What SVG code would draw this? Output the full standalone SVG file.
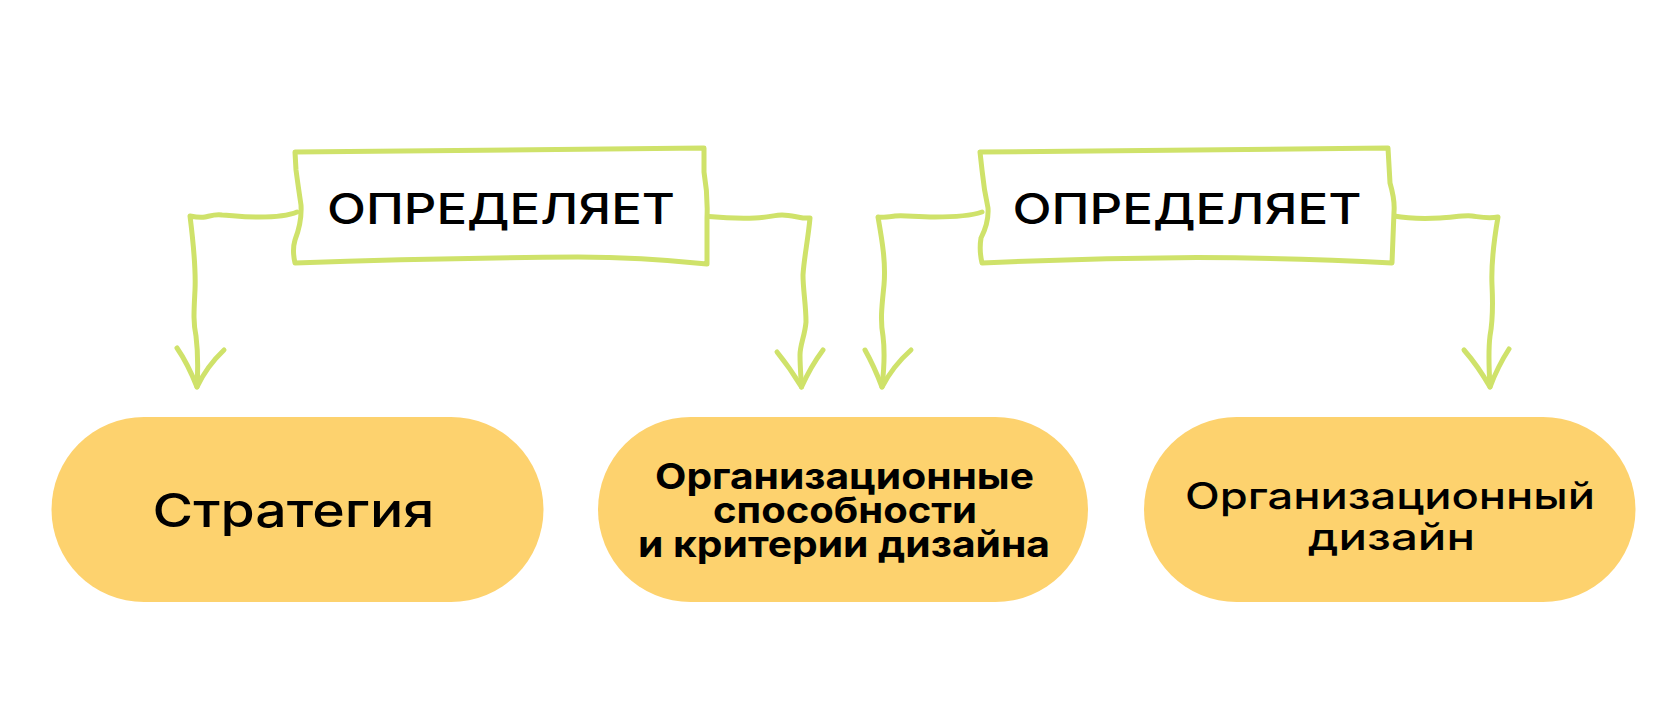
<svg xmlns="http://www.w3.org/2000/svg" width="1680" height="716" viewBox="0 0 1680 716">
<style>
.bg{fill:#ffffff}
.sk{fill:none;stroke:#CFE26A;stroke-width:5;stroke-linecap:round;stroke-linejoin:round}
.boxf{fill:#ffffff}
.pill{fill:#FDD26E}
.t{font-family:Inter,"Liberation Sans","DejaVu Sans",sans-serif;fill:#000000}
.lbl{font-size:42px;font-weight:500}
.big{font-size:47px;font-weight:500}
.mid{font-size:37px;font-weight:500}
.bold{font-size:36px;font-weight:700}
</style>
<rect class="bg" x="0" y="0" width="1680" height="716"/>

<g id="connectors">
  <!-- box 1 left -->
  <path class="sk" d="M297 212 C290 215,275 217,259 217 C240 217,230 215,222 215 C215 214,210 216,205 217 C200 218,195 217,190 216 C193 240,196 268,195 290 C194 310,193 322,196 336 C198 352,198 370,197 387"/>
  <path class="sk" d="M177 348 Q188 364 197 387 Q207 366 224 350"/>
  <!-- box 1 right -->
  <path class="sk" d="M709 216.5 C725 218,740 218.5,755 218 C768 217.5,775 215,782 215 C790 215,796 217,803 218 C806 218,808 218,810 218 C808 240,804 258,803 275 C803 290,806 305,806 322 C805 335,800 345,800 355 C800 366,801 378,801.5 387"/>
  <path class="sk" d="M777 352 Q790 368 801.5 387 Q811 366 823 350"/>
  <!-- box 2 left -->
  <path class="sk" d="M982 212 C970 216,955 217,935 217 C915 217,905 215,895 216 C888 217,882 218,878 217 C882 240,886 262,884 285 C882 305,880 320,883 336 C885 352,884 370,882 387"/>
  <path class="sk" d="M865 350 Q874 366 882 387 Q893 366 911 350"/>
  <!-- box 2 right -->
  <path class="sk" d="M1394 216 C1405 218,1420 219,1440 218 C1455 217,1465 215,1472 216 C1480 217,1488 219,1498 217 C1494 240,1491 262,1492 285 C1493 305,1493 320,1490 336 C1488 352,1489 370,1490 387"/>
  <path class="sk" d="M1464 350 Q1478 366 1490 387 Q1498 366 1509 349"/>
</g>

<g id="label1">
  <path class="sk boxf" d="M295 152 Q500 150 704 148 L704 172 Q708 195 707 218 L707 264 Q640 257 578 257 Q430 258 295 263 Q292 250 295 240 Q302 222 301 205 Q298 185 296 170 Z"/>
  <text class="t lbl" x="327" y="223.5" textLength="348" lengthAdjust="spacingAndGlyphs">ОПРЕДЕЛЯЕТ</text>
</g>

<g id="label2">
  <path class="sk boxf" d="M980 152 Q1185 150 1388 148 L1390 183 Q1395 200 1394 212 L1392 263 Q1300 258 1197 257.5 Q1090 258 982 263 Q979 250 981 238 Q989 222 988 208 Q984 190 982 170 Z"/>
  <text class="t lbl" x="1012.5" y="223.5" textLength="349" lengthAdjust="spacingAndGlyphs">ОПРЕДЕЛЯЕТ</text>
</g>

<g id="strategy">
  <rect class="pill" x="51.5" y="417" width="492" height="185" rx="92.5" ry="92.5"/>
  <text class="t big" x="152.5" y="527" textLength="282" lengthAdjust="spacingAndGlyphs">Стратегия</text>
</g>

<g id="capabilities">
  <rect class="pill" x="598" y="417" width="490" height="185" rx="92.5" ry="92.5"/>
  <text class="t bold" x="655" y="488.5" textLength="379" lengthAdjust="spacingAndGlyphs">Организационные</text>
  <text class="t bold" x="713" y="522.5" textLength="264" lengthAdjust="spacingAndGlyphs">способности</text>
  <text class="t bold" x="638" y="556.5" textLength="412" lengthAdjust="spacingAndGlyphs">и критерии дизайна</text>
</g>

<g id="orgdesign">
  <rect class="pill" x="1144" y="417" width="491.5" height="185" rx="92.5" ry="92.5"/>
  <text class="t mid" x="1185" y="508.5" textLength="410" lengthAdjust="spacingAndGlyphs">Организационный</text>
  <text class="t mid" x="1308" y="550" textLength="167" lengthAdjust="spacingAndGlyphs">дизайн</text>
</g>
</svg>
